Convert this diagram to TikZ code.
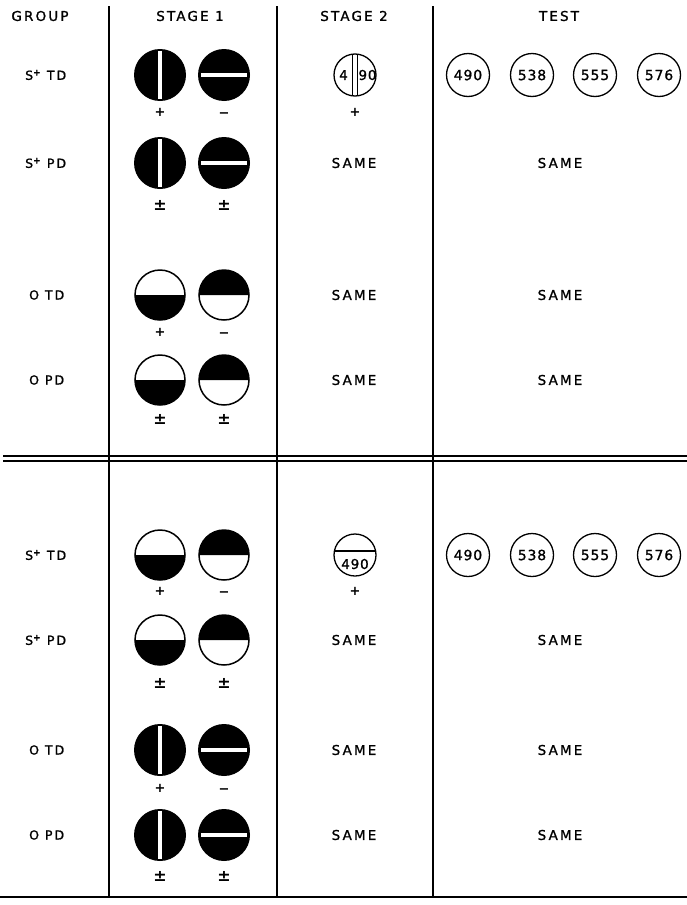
\documentclass[tikz,border=0pt]{standalone}
\usepackage{fontspec}
\setmainfont{DejaVu Sans}[LetterSpace=16,FakeBold=1.2]
\newfontfamily\signfont{DejaVu Sans}
\newfontfamily\numfont{DejaVu Sans}[LetterSpace=6,FakeBold=1.2]
\begin{document}
\begin{tikzpicture}[x=1pt,y=1pt,
  frame/.style={line width=1.6pt},
  hdr/.style={font=\fontsize{13.5}{14}\selectfont, inner sep=0},
  lbl/.style={font=\fontsize{13.5}{14}\selectfont, inner sep=0},
  grp/.style={font=\fontsize{12.5}{13}\selectfont, inner sep=0, anchor=west},
  sgn/.style={font=\signfont\bfseries\fontsize{13}{13}\selectfont, inner sep=0},
  pm/.style={font=\signfont\bfseries\fontsize{16}{16}\selectfont, inner sep=0},
  testc/.style={circle, draw, line width=1.3pt, minimum size=43pt, inner sep=0,
                font=\numfont\fontsize{14}{14}\selectfont},
  stwo/.style={circle, draw, line width=1.3pt, minimum size=42pt, inner sep=0},
  small/.style={font=\numfont\fontsize{13.5}{14}\selectfont, inner sep=0},
  slitv/.pic={\fill (0,0) circle (26pt); \fill[white] (-2.2pt,-24pt) rectangle (2.2pt,24.5pt);},
  slith/.pic={\fill (0,0) circle (26pt); \fill[white] (-23pt,-2.2pt) rectangle (23pt,2.2pt);},
  halfdn/.pic={\fill (-25pt,0) arc[start angle=180,end angle=360,radius=25pt] -- cycle;
               \draw[line width=1.5pt] (0,0) circle (25pt);},
  halfup/.pic={\fill (-25pt,0) arc[start angle=180,end angle=0,radius=25pt] -- cycle;
               \draw[line width=1.5pt] (0,0) circle (25pt);},
]
\useasboundingbox (0,0) rectangle (687,-905);

% frame
\coordinate (v1t) at (109,-6);  \coordinate (v1b) at (109,-897);
\coordinate (v2t) at (277,-6);  \coordinate (v2b) at (277,-897);
\coordinate (v3t) at (433,-6);  \coordinate (v3b) at (433,-897);
\draw[frame] (v1t) -- (v1b);
\draw[frame] (v2t) -- (v2b);
\draw[frame] (v3t) -- (v3b);
\coordinate (h1l) at (3,-456); \coordinate (h1r) at (687,-456);
\coordinate (h2l) at (3,-461); \coordinate (h2r) at (687,-461);
\coordinate (bl) at (0,-897); \coordinate (br) at (687,-897);
\draw[frame] (h1l) -- (h1r);
\draw[frame] (h2l) -- (h2r);
\draw[frame] (bl) -- (br);

% headers
\node[hdr] (hg) at (40,-16) {GROUP};
\node[hdr] (h1) at (190,-16) {STAGE 1};
\node[hdr] (h2) at (354,-16) {STAGE 2};
\node[hdr] (h3) at (559,-16) {TEST};

% group labels
\node[grp] (g1) at (25,-75)  {S\textsuperscript{\bfseries +} TD};
\node[grp] (g2) at (25,-163) {S\textsuperscript{\bfseries +} PD};
\node[grp] (g3) at (29,-295) {O TD};
\node[grp] (g4) at (29,-380) {O PD};
\node[grp] (g5) at (25,-555) {S\textsuperscript{\bfseries +} TD};
\node[grp] (g6) at (25,-640) {S\textsuperscript{\bfseries +} PD};
\node[grp] (g7) at (29,-750) {O TD};
\node[grp] (g8) at (29,-835) {O PD};

% stage 1 figures
\pic (a1) at (160,-75)  {slitv};  \pic (b1) at (224,-75)  {slith};
\pic (a2) at (160,-163) {slitv};  \pic (b2) at (224,-163) {slith};
\pic (a3) at (160,-295) {halfdn}; \pic (b3) at (224,-295) {halfup};
\pic (a4) at (160,-380) {halfdn}; \pic (b4) at (224,-380) {halfup};
\pic (a5) at (160,-555) {halfdn}; \pic (b5) at (224,-555) {halfup};
\pic (a6) at (160,-640) {halfdn}; \pic (b6) at (224,-640) {halfup};
\pic (a7) at (160,-750) {slitv};  \pic (b7) at (224,-750) {slith};
\pic (a8) at (160,-835) {slitv};  \pic (b8) at (224,-835) {slith};

% signs
\node[sgn] (sa1) at (160,-112) {+};  \node[sgn] (sb1) at (224,-115) {−};
\node[pm]  (sa2) at (160,-205) {±};  \node[pm]  (sb2) at (224,-205) {±};
\node[sgn] (sa3) at (160,-332) {+};  \node[sgn] (sb3) at (224,-335) {−};
\node[pm]  (sa4) at (160,-419) {±};  \node[pm]  (sb4) at (224,-419) {±};
\node[sgn] (sa5) at (160,-591) {+};  \node[sgn] (sb5) at (224,-594) {−};
\node[pm]  (sa6) at (160,-683) {±};  \node[pm]  (sb6) at (224,-683) {±};
\node[sgn] (sa7) at (160,-788) {+};  \node[sgn] (sb7) at (224,-791) {−};
\node[pm]  (sa8) at (160,-876) {±};  \node[pm]  (sb8) at (224,-876) {±};

% stage 2, upper
\node[stwo] (s2a) at (355,-75) {};
\begin{scope}
  \clip (s2a.center) circle (21pt);
  \draw[line width=1.2pt] (352.3,-40) -- (352.3,-110);
  \draw[line width=1.2pt] (357.7,-40) -- (357.7,-110);
\end{scope}
\node[small] (s2a4) at (343.5,-75) {4};
\node[small] (s2a90) at (367.5,-75) {90};
\node[sgn] (s2ap) at (355,-112) {+};

% stage 2, lower
\node[stwo] (s2b) at (355,-555) {};
\begin{scope}
  \clip (s2b.center) circle (21pt);
  \draw[line width=1.2pt] (320,-551) -- (390,-551);
\end{scope}
\node[small] (s2b490) at (355,-564) {490};
\node[sgn] (s2bp) at (355,-591) {+};

% test circles
\node[testc] (t1) at (468,-75) {490};
\node[testc] (t2) at (532,-75) {538};
\node[testc] (t3) at (595,-75) {555};
\node[testc] (t4) at (659,-75) {576};
\node[testc] (t5) at (468,-555) {490};
\node[testc] (t6) at (532,-555) {538};
\node[testc] (t7) at (595,-555) {555};
\node[testc] (t8) at (659,-555) {576};

% SAME
\foreach \y/\n in {163/2,295/3,380/4,640/6,750/7,835/8}{
  \node[lbl] (sm2\n) at (354,-\y) {SAME};
  \node[lbl] (smt\n) at (560,-\y) {SAME};
}
\end{tikzpicture}
\end{document}
